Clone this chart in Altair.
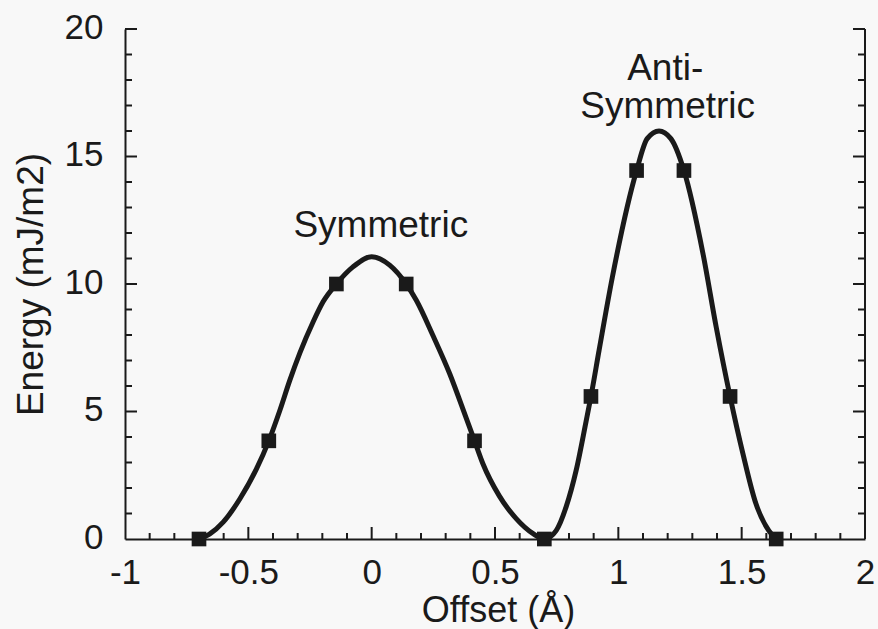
import altair as alt
import pandas as pd

# Smooth energy curve
curve_x = [-0.70, -0.656, -0.602, -0.534, -0.467, -0.417, -0.372, -0.332, -0.291, -0.238,
           -0.197, -0.143, -0.076, 0.0, 0.073, 0.140, 0.181, 0.248, 0.316, 0.383,
           0.417, 0.451, 0.518, 0.586, 0.653, 0.70,
           0.748, 0.788, 0.829, 0.869, 0.889, 0.922, 0.976, 1.074, 1.117, 1.165,
           1.213, 1.266, 1.343, 1.397, 1.453, 1.505, 1.558, 1.61, 1.64]
curve_y = [0.0, 0.2, 0.66, 1.58, 2.75, 3.85, 5.05, 6.22, 7.3, 8.5,
           9.3, 10.0, 10.67, 11.07, 10.74, 10.0, 9.36, 7.99, 6.49, 4.75,
           3.85, 2.95, 1.68, 0.8, 0.22, 0.0,
           0.33, 1.25, 2.69, 4.6, 5.59, 7.4, 10.28, 14.45, 15.7, 16.0,
           15.7, 14.45, 11.2, 8.3, 5.59, 3.35, 1.38, 0.33, 0.0]

# Computed points (squares)
point_x = [-0.70, -0.417, -0.143, 0.140, 0.417, 0.70, 0.889, 1.074, 1.266, 1.453, 1.64]
point_y = [0.0, 3.85, 10.0, 10.0, 3.85, 0.0, 5.59, 14.45, 14.45, 5.59, 0.0]

# Axis ticks
x_labels = [-1, -0.5, 0, 0.5, 1, 1.5, 2]
x_major = [-0.5, 0, 0.5, 1, 1.5]
x_minor = [-0.9, -0.8, -0.7, -0.6, -0.4, -0.3, -0.2, -0.1, 0.1, 0.2, 0.3, 0.4,
           0.6, 0.7, 0.8, 0.9, 1.1, 1.2, 1.3, 1.4, 1.6, 1.7, 1.8, 1.9]
y_labels = [0, 5, 10, 15, 20]
y_major = [5, 10, 15, 20]
y_minor = [1, 2, 3, 4, 6, 7, 8, 9, 11, 12, 13, 14, 16, 17, 18, 19]

# Annotations
label_text = ["Symmetric", "Anti-", "Symmetric"]
label_x = [0.037, 1.19, 1.20]
label_y = [11.86, 18.0, 16.51]

W, H = 740, 510
FONT = "Liberation Sans"
INK = "#1a1a1a"

xs = alt.Scale(domain=[-1, 2], nice=False, zero=False)
ys = alt.Scale(domain=[0, 20], nice=False, zero=False)

curve_df = pd.DataFrame({"x": curve_x, "y": curve_y})
pts_df = pd.DataFrame({"x": point_x, "y": point_y})
lab_df = pd.DataFrame({"t": label_text, "x": label_x, "y": label_y})

line = alt.Chart(curve_df).mark_line(
    color=INK, strokeWidth=5, interpolate="monotone", strokeCap="round", strokeJoin="round"
).encode(
    x=alt.X("x:Q", scale=xs, title="Offset (Å)",
            axis=alt.Axis(values=x_labels, labelExpr="'' + datum.value", ticks=False,
                          tickSize=0, grid=False, domainColor=INK, domainWidth=2,
                          labelFont=FONT, labelFontSize=35, labelColor=INK, labelPadding=16,
                          labelFlush=False, labelOverlap=False,
                          titleFont=FONT, titleFontSize=36, titleFontWeight="normal",
                          titleColor=INK, titleX=373, titleY=82, titleAlign="center",
                          titleBaseline="alphabetic")),
    y=alt.Y("y:Q", scale=ys, title="Energy (mJ/m2)",
            axis=alt.Axis(values=y_labels, labelExpr="'' + datum.value", ticks=False,
                          tickSize=0, grid=False, domainColor=INK, domainWidth=2,
                          labelFont=FONT, labelFontSize=35, labelColor=INK, labelPadding=22,
                          labelOffset=-2, labelFlush=False, labelOverlap=False,
                          titleFont=FONT, titleFontSize=37, titleFontWeight="normal",
                          titleColor=INK, titleAngle=270, titleX=-83, titleY=255,
                          titleAlign="center", titleBaseline="alphabetic")),
)

points = alt.Chart(pts_df).mark_point(
    shape="square", filled=True, size=215, color=INK, opacity=1
).encode(x=alt.X("x:Q", scale=xs), y=alt.Y("y:Q", scale=ys))

def xticks(vals, length):
    return alt.Chart(pd.DataFrame({"v": vals})).mark_rule(color=INK, strokeWidth=2).encode(
        x=alt.X("v:Q", scale=xs), y=alt.value(H), y2=alt.value(H - length))

def yticks(vals, length, right=False):
    if right:
        x1, x2 = alt.value(W), alt.value(W - length)
    else:
        x1, x2 = alt.value(0), alt.value(length)
    return alt.Chart(pd.DataFrame({"v": vals})).mark_rule(color=INK, strokeWidth=2).encode(
        y=alt.Y("v:Q", scale=ys), x=x1, x2=x2)

right_border = alt.Chart(pd.DataFrame({"v": [2]})).mark_rule(color=INK, strokeWidth=2).encode(
    x=alt.X("v:Q", scale=xs), y=alt.value(0), y2=alt.value(H))

labels = alt.Chart(lab_df).mark_text(
    font=FONT, fontSize=37, color=INK, align="center", baseline="alphabetic"
).encode(x=alt.X("x:Q", scale=xs), y=alt.Y("y:Q", scale=ys), text="t:N")

chart = alt.layer(
    xticks(x_major, 12), xticks(x_minor, 6),
    yticks(y_major, 12), yticks(y_minor, 7),
    yticks(y_major, 12, right=True), yticks(y_minor, 7, right=True),
    right_border, line, points, labels
).properties(
    width=W, height=H,
    autosize=alt.AutoSizeParams(type="none"),
    padding={"left": 125, "top": 29, "right": 13, "bottom": 90},
    background="#f8f8f8",
).configure_view(stroke=None)

chart.save("out.html", embed_options={"renderer": "svg", "actions": False})
